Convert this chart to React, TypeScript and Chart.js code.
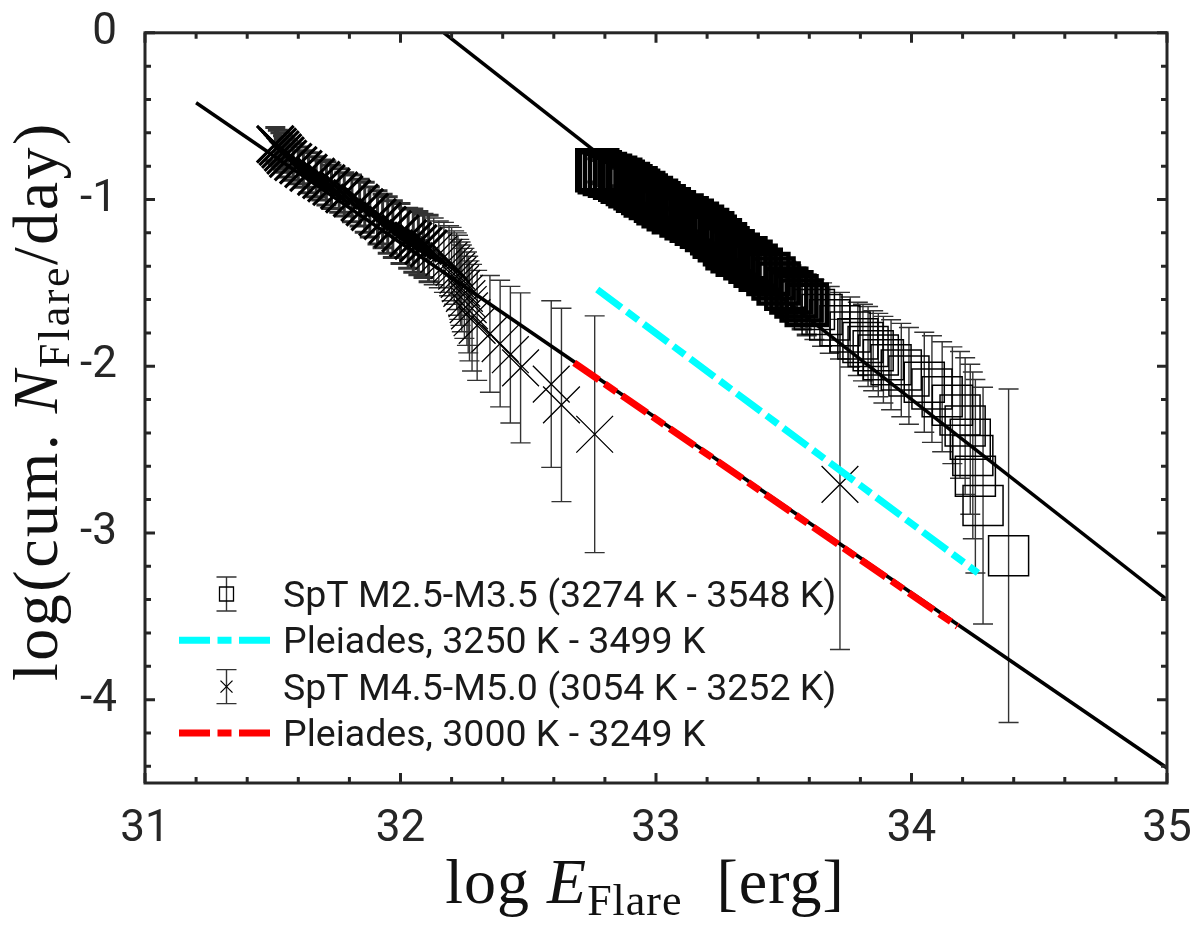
import { useEffect, useRef } from "react"
import { Chart, registerables, type Plugin } from "chart.js"

Chart.register(...registerables)

// axis ticks
const xMajor = [31, 32, 33, 34, 35]
const yMajor = [0, -1, -2, -3, -4]

// SpT M2.5-M3.5 : log E_Flare, log cum. rate, error (dex)
const sqE = [
  32.77, 32.78, 32.8, 32.82, 32.84, 32.86, 32.87, 32.89, 32.9, 32.92, 32.93, 32.95, 32.96, 32.98,
  33.0, 33.01, 33.03, 33.05, 33.07, 33.1, 33.12, 33.14, 33.16, 33.18, 33.2, 33.22, 33.23, 33.25,
  33.27, 33.28, 33.3, 33.32, 33.35, 33.37, 33.39, 33.41, 33.44, 33.46, 33.48, 33.51, 33.53, 33.55,
  33.57, 33.59, 33.62, 33.65, 33.68, 33.72, 33.76, 33.79, 33.81, 33.83, 33.85, 33.87, 33.89, 33.92,
  33.96, 33.99, 34.05, 34.08, 34.12, 34.16, 34.19, 34.21, 34.23, 34.24, 34.25, 34.28, 34.38,
]
const sqN = [
  -0.825, -0.836, -0.847, -0.858, -0.87, -0.882, -0.894, -0.907, -0.92, -0.933, -0.947, -0.961, -0.976, -0.991,
  -1.007, -1.023, -1.04, -1.058, -1.076, -1.096, -1.112, -1.128, -1.146, -1.164, -1.183, -1.203, -1.223, -1.245,
  -1.268, -1.292, -1.311, -1.331, -1.352, -1.374, -1.397, -1.421, -1.447, -1.474, -1.504, -1.535, -1.557, -1.581,
  -1.606, -1.632, -1.66, -1.69, -1.722, -1.757, -1.795, -1.836, -1.858, -1.882, -1.907, -1.933, -1.961, -1.991,
  -2.023, -2.058, -2.096, -2.137, -2.183, -2.234, -2.292, -2.359, -2.438, -2.535, -2.66, -2.836, -3.137,
]
const sqErr = [
  0.07, 0.07, 0.07, 0.07, 0.07, 0.07, 0.08, 0.08, 0.08, 0.08, 0.08, 0.08, 0.08, 0.08,
  0.09, 0.09, 0.09, 0.09, 0.09, 0.1, 0.1, 0.1, 0.1, 0.1, 0.11, 0.11, 0.11, 0.11,
  0.12, 0.12, 0.12, 0.13, 0.13, 0.13, 0.13, 0.14, 0.14, 0.15, 0.15, 0.16, 0.16, 0.17,
  0.17, 0.18, 0.18, 0.19, 0.2, 0.2, 0.21, 0.22, 0.23, 0.24, 0.24, 0.25, 0.26, 0.27,
  0.28, 0.29, 0.3, 0.32, 0.33, 0.35, 0.38, 0.41, 0.45, 0.5, 0.58, 0.71, 1.0,
]

// SpT M4.5-M5.0
const crE = [
  31.51, 31.52, 31.53, 31.54, 31.55, 31.56, 31.58, 31.6, 31.62, 31.64, 31.67, 31.69, 31.71, 31.73,
  31.76, 31.78, 31.81, 31.84, 31.86, 31.88, 31.91, 31.93, 31.95, 31.97, 32.0, 32.03, 32.05, 32.07,
  32.09, 32.11, 32.13, 32.15, 32.17, 32.19, 32.2, 32.21, 32.22, 32.225, 32.23, 32.235, 32.24, 32.25,
  32.26, 32.265, 32.27, 32.28, 32.3, 32.35, 32.39, 32.43, 32.47, 32.59, 32.63, 32.76, 33.72,
]
const crN = [
  -0.668, -0.684, -0.7, -0.718, -0.736, -0.755, -0.775, -0.795, -0.817, -0.84, -0.864, -0.883, -0.903, -0.924,
  -0.946, -0.969, -0.993, -1.019, -1.046, -1.075, -1.107, -1.129, -1.153, -1.178, -1.204, -1.232, -1.247, -1.262,
  -1.278, -1.294, -1.311, -1.329, -1.347, -1.367, -1.387, -1.408, -1.43, -1.454, -1.479, -1.505, -1.533, -1.563,
  -1.595, -1.63, -1.668, -1.709, -1.755, -1.806, -1.864, -1.931, -2.01, -2.107, -2.232, -2.408, -2.709,
]
const crErr = [
  0.1, 0.1, 0.1, 0.1, 0.1, 0.11, 0.11, 0.11, 0.11, 0.12, 0.12, 0.12, 0.13, 0.13,
  0.13, 0.13, 0.14, 0.14, 0.15, 0.15, 0.16, 0.16, 0.17, 0.17, 0.18, 0.18, 0.19, 0.19,
  0.19, 0.2, 0.2, 0.2, 0.21, 0.21, 0.22, 0.22, 0.23, 0.24, 0.24, 0.25, 0.26, 0.27,
  0.28, 0.29, 0.3, 0.32, 0.33, 0.35, 0.38, 0.41, 0.45, 0.5, 0.58, 0.71, 0.99,
]

// power-law fits
const fitEarlyE = [32.17, 35]
const fitEarlyN = [0, -3.4]
const fitLateE = [31.2, 35]
const fitLateN = [-0.42, -4.41]

// Pleiades comparison
const pleiHotE = [32.77, 34.26]
const pleiHotN = [-1.54, -3.24]
const pleiCoolE = [32.68, 34.18]
const pleiCoolN = [-1.98, -3.56]

const INK = "#262626"
const DASH = [30, 7, 14, 7]
// the well-populated part of each distribution overlaps into a solid band
const SQ_DENSE = 44
const CR_DENSE = 30

const pts = (xs: number[], ys: number[]) => xs.map((x, i) => ({ x, y: ys[i] }))

function drawErrorBars(chart: Chart, es: number[], ns: number[], errs: number[], dense: number) {
  const { ctx, chartArea: a } = chart
  const xs = chart.scales.x
  const ys = chart.scales.y
  ctx.save()
  ctx.beginPath()
  ctx.rect(a.left, a.top, a.width, a.height)
  ctx.clip()
  ctx.strokeStyle = "#333"
  es.forEach((e, i) => {
    const px = xs.getPixelForValue(e)
    const hi = ys.getPixelForValue(ns[i] + errs[i])
    const lo = ys.getPixelForValue(ns[i] - errs[i])
    ctx.lineWidth = i < dense ? 3 : 1.4
    ctx.beginPath()
    ctx.moveTo(px, hi)
    ctx.lineTo(px, lo)
    ctx.moveTo(px - 10, hi)
    ctx.lineTo(px + 10, hi)
    ctx.moveTo(px - 10, lo)
    ctx.lineTo(px + 10, lo)
    ctx.stroke()
  })
  ctx.restore()
}

const errorBarPlugin: Plugin = {
  id: "errorBars",
  beforeDatasetDraw(chart, args) {
    if (args.index === 0) drawErrorBars(chart, sqE, sqN, sqErr, SQ_DENSE)
    if (args.index === 1) drawErrorBars(chart, crE, crN, crErr, CR_DENSE)
  },
}

const framePlugin: Plugin = {
  id: "frame",
  afterDatasetsDraw(chart) {
    const { ctx, chartArea: a } = chart
    const xs = chart.scales.x
    const ys = chart.scales.y
    ctx.save()
    ctx.strokeStyle = INK
    ctx.lineWidth = 3
    ctx.beginPath()
    for (let k = 0; k <= 20; k++) {
      const px = xs.getPixelForValue(31 + k * 0.2)
      const len = k % 5 === 0 ? 10 : 6
      ctx.moveTo(px, a.bottom)
      ctx.lineTo(px, a.bottom - len)
      ctx.moveTo(px, a.top)
      ctx.lineTo(px, a.top + len)
    }
    for (let k = 0; k <= 22; k++) {
      const py = ys.getPixelForValue(-k * 0.2)
      const len = k % 5 === 0 ? 10 : 6
      ctx.moveTo(a.left, py)
      ctx.lineTo(a.left + len, py)
      ctx.moveTo(a.right, py)
      ctx.lineTo(a.right - len, py)
    }
    ctx.stroke()
    ctx.strokeRect(a.left, a.top, a.width, a.height)
    ctx.restore()
  },
}

const legendRows = [
  { label: "SpT M2.5-M3.5 (3274 K - 3548 K)", kind: "square" },
  { label: "Pleiades, 3250 K - 3499 K", kind: "cyan" },
  { label: "SpT M4.5-M5.0 (3054 K - 3252 K)", kind: "cross" },
  { label: "Pleiades, 3000 K - 3249 K", kind: "red" },
]

const legendPlugin: Plugin = {
  id: "customLegend",
  afterDraw(chart) {
    const { ctx } = chart
    ctx.save()
    legendRows.forEach((row, i) => {
      const cy = 594 + i * 46.3
      const ix = 226.5
      if (row.kind === "square" || row.kind === "cross") {
        ctx.strokeStyle = "#333"
        ctx.lineWidth = 1.4
        ctx.beginPath()
        ctx.moveTo(ix, cy - 17)
        ctx.lineTo(ix, cy + 17)
        ctx.moveTo(ix - 10, cy - 17)
        ctx.lineTo(ix + 10, cy - 17)
        ctx.moveTo(ix - 10, cy + 17)
        ctx.lineTo(ix + 10, cy + 17)
        ctx.stroke()
        ctx.strokeStyle = "#000"
        ctx.lineWidth = 1.3
        ctx.beginPath()
        if (row.kind === "square") {
          ctx.rect(ix - 7, cy - 7, 14, 14)
        } else {
          ctx.moveTo(ix - 6, cy - 6)
          ctx.lineTo(ix + 6, cy + 6)
          ctx.moveTo(ix + 6, cy - 6)
          ctx.lineTo(ix - 6, cy + 6)
        }
        ctx.stroke()
      } else {
        ctx.strokeStyle = row.kind === "cyan" ? "#00ffff" : "#ff0000"
        ctx.lineWidth = 7
        ctx.setLineDash([31, 7.5, 14, 7.5])
        ctx.beginPath()
        ctx.moveTo(179, cy)
        ctx.lineTo(271, cy)
        ctx.stroke()
        ctx.setLineDash([])
      }
      ctx.fillStyle = "#1a1a1a"
      ctx.font = "37.5px Roboto"
      ctx.textAlign = "left"
      ctx.textBaseline = "alphabetic"
      ctx.fillText(row.label, 283, cy + 13)
    })
    ctx.restore()
  },
}

type Part = { t: string; font: string; dy?: number }

function drawRich(ctx: CanvasRenderingContext2D, parts: Part[], cx: number, y: number) {
  let total = 0
  parts.forEach((p) => {
    ctx.font = p.font
    total += ctx.measureText(p.t).width
  })
  let x = cx - total / 2
  parts.forEach((p) => {
    ctx.font = p.font
    ctx.fillText(p.t, x, y + (p.dy || 0))
    x += ctx.measureText(p.t).width
  })
}

const SERIF = '"Liberation Serif"'

const titlePlugin: Plugin = {
  id: "axisTitles",
  afterDraw(chart) {
    const { ctx } = chart
    ctx.save()
    ctx.fillStyle = "#111"
    ctx.textAlign = "left"
    ctx.textBaseline = "alphabetic"
    ;(ctx as any).letterSpacing = "1px"
    drawRich(
      ctx,
      [
        { t: "log ", font: `64px ${SERIF}` },
        { t: "E", font: `italic 64px ${SERIF}` },
        { t: "Flare", font: `44px ${SERIF}`, dy: 12 },
        { t: "  [erg]", font: `64px ${SERIF}` },
      ],
      645,
      903
    )
    ;(ctx as any).letterSpacing = "2.5px"
    ctx.translate(57, 401)
    ctx.rotate(-Math.PI / 2)
    drawRich(
      ctx,
      [
        { t: "log(cum. ", font: `64px ${SERIF}` },
        { t: "N", font: `italic 64px ${SERIF}` },
        { t: "Flare", font: `44px ${SERIF}`, dy: 12 },
        { t: "/day)", font: `64px ${SERIF}` },
      ],
      0,
      0
    )
    ctx.restore()
  },
}

export default function App() {
  const canvasRef = useRef<HTMLCanvasElement>(null)

  useEffect(() => {
    if (!canvasRef.current) return
    const chart = new Chart(canvasRef.current, {
      type: "scatter",
      data: {
        datasets: [
          {
            label: "SpT M2.5-M3.5 (3274 K - 3548 K)",
            data: pts(sqE, sqN),
            pointStyle: "rect",
            pointRadius: 28.3,
            pointBorderWidth: (c: any) => (c.dataIndex < SQ_DENSE ? 4.5 : 1.5),
            pointBorderColor: "#000",
            pointBackgroundColor: "rgba(0,0,0,0)",
            borderColor: "#000",
            order: 5,
          },
          {
            label: "SpT M4.5-M5.0 (3054 K - 3252 K)",
            data: pts(crE, crN),
            pointStyle: "crossRot",
            pointRadius: 26,
            pointBorderWidth: (c: any) => (c.dataIndex < CR_DENSE ? 3.2 : 1.3),
            pointBorderColor: "#000",
            pointBackgroundColor: "rgba(0,0,0,0)",
            borderColor: "#000",
            order: 5,
          },
          {
            label: "fit M2.5-M3.5",
            data: pts(fitEarlyE, fitEarlyN),
            showLine: true,
            pointRadius: 0,
            borderColor: "#000",
            borderWidth: 3.5,
            order: 3,
          },
          {
            label: "fit M4.5-M5.0",
            data: pts(fitLateE, fitLateN),
            showLine: true,
            pointRadius: 0,
            borderColor: "#000",
            borderWidth: 3.5,
            order: 3,
          },
          {
            label: "Pleiades, 3250 K - 3499 K",
            data: pts(pleiHotE, pleiHotN),
            showLine: true,
            pointRadius: 0,
            borderColor: "#00ffff",
            borderWidth: 7,
            borderDash: DASH,
            order: 1,
          },
          {
            label: "Pleiades, 3000 K - 3249 K",
            data: pts(pleiCoolE, pleiCoolN),
            showLine: true,
            pointRadius: 0,
            borderColor: "#ff0000",
            borderWidth: 7,
            borderDash: DASH,
            order: 1,
          },
        ],
      },
      options: {
        animation: false,
        responsive: true,
        maintainAspectRatio: false,
        layout: { padding: { left: 0, top: 26, right: 33, bottom: 0 } },
        plugins: { legend: { display: false }, tooltip: { enabled: false } },
        scales: {
          x: {
            type: "linear",
            min: 31,
            max: 35,
            grid: { display: false },
            border: { display: false },
            afterBuildTicks: (s) => {
              s.ticks = xMajor.map((value) => ({ value }))
            },
            afterFit: (s: any) => {
              s.height = 157
              s.paddingLeft = 0
              s.paddingRight = 0
            },
            ticks: {
              color: INK,
              padding: 17,
              maxRotation: 0,
              font: { family: "Roboto", size: 44, lineHeight: 1 },
            },
          },
          y: {
            type: "linear",
            min: -4.5,
            max: 0,
            grid: { display: false },
            border: { display: false },
            afterBuildTicks: (s) => {
              s.ticks = yMajor.map((value) => ({ value }))
            },
            afterFit: (s: any) => {
              s.width = 145
              s.paddingTop = 0
              s.paddingBottom = 0
            },
            ticks: {
              color: INK,
              padding: 20,
              font: { family: "Roboto", size: 44, lineHeight: 1 },
            },
          },
        },
      },
      plugins: [errorBarPlugin, framePlugin, legendPlugin, titlePlugin],
    })
    return () => chart.destroy()
  }, [])

  return (
    <div style={{ position: "absolute", left: 0, top: 0, width: 1200, height: 940, background: "#fff" }}>
      <canvas ref={canvasRef}></canvas>
    </div>
  )
}
